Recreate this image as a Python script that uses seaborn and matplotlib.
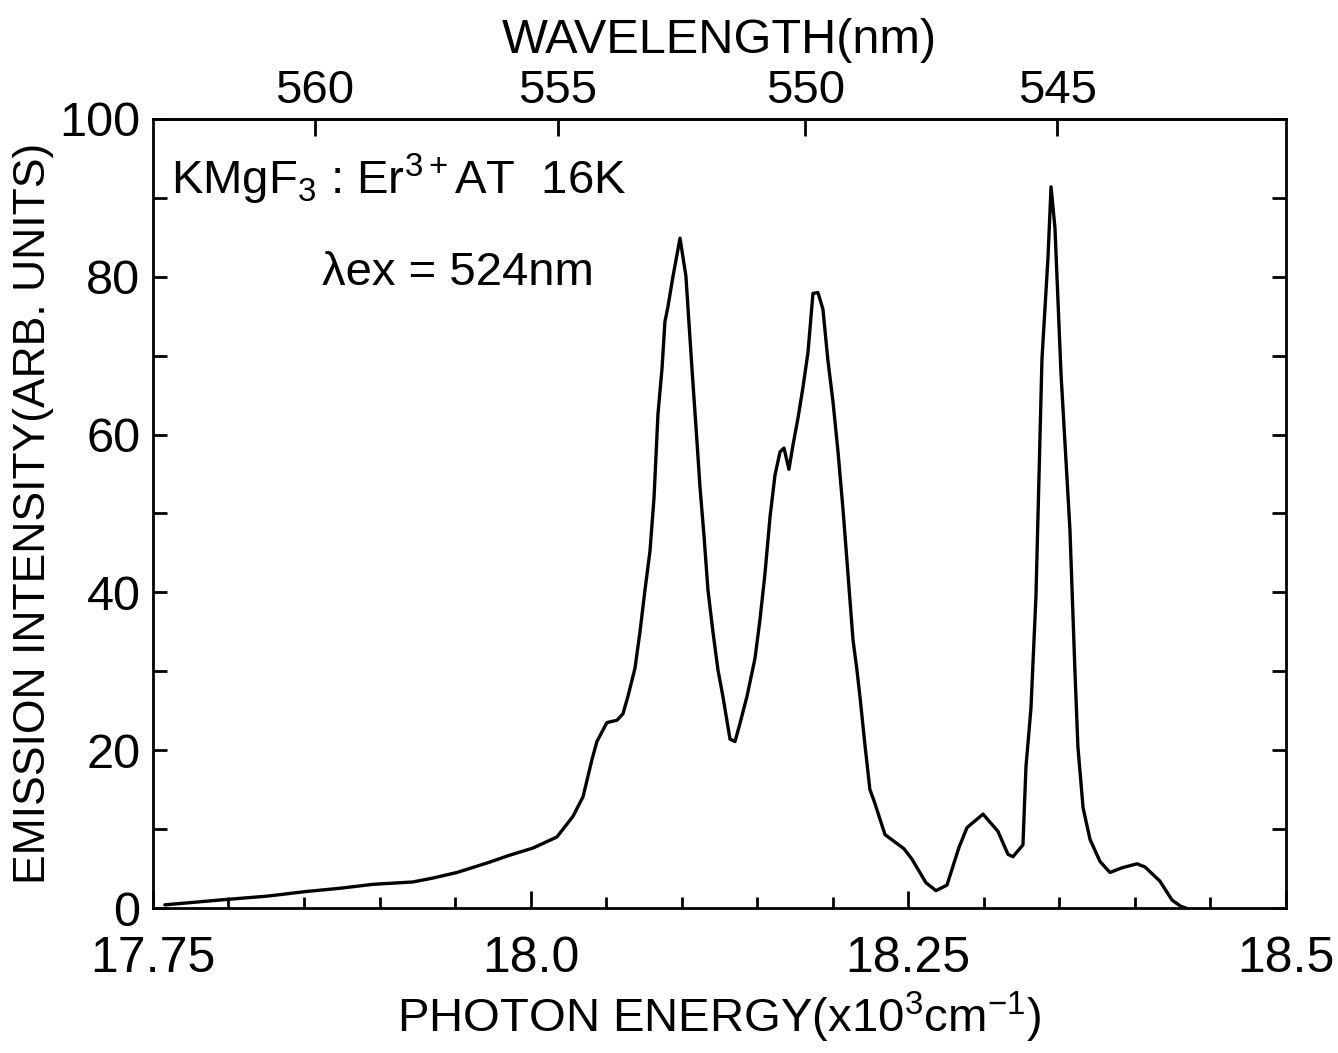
import numpy as np
import pandas as pd
import matplotlib
matplotlib.use("Agg")
import matplotlib.pyplot as plt
from matplotlib.ticker import MultipleLocator, FixedLocator, NullLocator
import seaborn as sns

# ---- data ----
energy = [17.7579, 17.7997, 17.8255, 17.8519, 17.8738, 17.8956, 17.9221, 17.9354,
          17.9512, 17.9711, 17.9863, 18.0016, 18.0174, 18.0280, 18.0347, 18.0406,
          18.0439, 18.0505, 18.0572, 18.0611, 18.0644, 18.0691, 18.0724, 18.0757,
          18.0790, 18.0817, 18.0843, 18.0870, 18.0889, 18.0909, 18.0942, 18.0989,
          18.1028, 18.1068, 18.1101, 18.1121, 18.1148, 18.1174, 18.1207, 18.1240,
          18.1273, 18.1320, 18.1353, 18.1386, 18.1432, 18.1485, 18.1518, 18.1551,
          18.1585, 18.1618, 18.1651, 18.1677, 18.1710, 18.1737, 18.1770, 18.1803,
          18.1836, 18.1869, 18.1902, 18.1935, 18.1968, 18.2002, 18.2035, 18.2068,
          18.2101, 18.2134, 18.2160, 18.2180, 18.2213, 18.2246, 18.2273, 18.2346,
          18.2472, 18.2524, 18.2617, 18.2683, 18.2756, 18.2836, 18.2889, 18.2995,
          18.3094, 18.3160, 18.3193, 18.3259, 18.3279, 18.3312, 18.3345, 18.3385,
          18.3425, 18.3445, 18.3471, 18.3511, 18.3570, 18.3604, 18.3623, 18.3657,
          18.3703, 18.3769, 18.3835, 18.3915, 18.4014, 18.4067, 18.4166, 18.4246,
          18.4305, 18.4338]
intensity = [0.4, 1.1, 1.5, 2.1, 2.5, 3.0, 3.3, 3.8,
             4.5, 5.7, 6.7, 7.6, 9.0, 11.6, 14.1, 18.8,
             21.1, 23.5, 23.8, 24.6, 26.8, 30.4, 35.0, 40.3,
             45.2, 52.0, 62.6, 68.4, 74.3, 76.2, 80.0, 84.9,
             80.1, 68.4, 59.2, 53.4, 47.1, 40.3, 35.0, 30.2,
             26.8, 21.4, 21.1, 23.4, 26.8, 31.6, 36.5, 42.3,
             49.6, 54.9, 57.8, 58.3, 55.6, 58.7, 62.1, 66.0,
             70.4, 77.9, 78.0, 75.9, 69.4, 64.1, 57.8, 50.5,
             42.3, 34.0, 30.2, 26.8, 20.7, 15.0, 13.6, 9.3,
             7.5, 6.2, 3.2, 2.2, 2.9, 7.7, 10.2, 11.9,
             9.7, 6.8, 6.5, 8.0, 17.9, 25.3, 39.4, 69.6,
             82.5, 91.4, 86.2, 67.7, 48.0, 29.6, 20.4, 12.7,
             8.7, 5.9, 4.5, 5.1, 5.6, 5.2, 3.4, 1.0,
             0.2, 0.0]

x_ticks = [17.75, 18.0, 18.25, 18.5]
x_ticklabels = ["17.75", "18.0", "18.25", "18.5"]
y_ticks = [0, 20, 40, 60, 80, 100]
wl_ticks = [560, 555, 550, 545]

df = pd.DataFrame({"energy": energy, "intensity": intensity})

# ---- style ----
sns.set_theme(style="ticks")
FONT = ["Liberation Sans", "DejaVu Sans"]
plt.rcParams["font.family"] = FONT
plt.rcParams["text.color"] = "black"
plt.rcParams["axes.labelcolor"] = "black"
plt.rcParams["xtick.color"] = "black"
plt.rcParams["ytick.color"] = "black"
plt.rcParams["mathtext.fontset"] = "custom"
plt.rcParams["mathtext.rm"] = "Liberation Sans"
plt.rcParams["mathtext.it"] = "Liberation Sans"
plt.rcParams["mathtext.bf"] = "Liberation Sans"
plt.rcParams["mathtext.sf"] = "Liberation Sans"

fig = plt.figure(figsize=(13.38, 10.53), dpi=100)
ax = fig.add_axes([0.1143, 0.1377, 0.9611 - 0.1143, 0.887 - 0.1377])

sns.lineplot(data=df, x="energy", y="intensity", sort=False, estimator=None,
             color="black", linewidth=2.4, ax=ax)

ax.set_xlim(17.75, 18.5)
ax.set_ylim(0, 100)

for s in ax.spines.values():
    s.set_linewidth(2.0)
    s.set_color("black")

ax.xaxis.set_major_locator(FixedLocator(x_ticks))
ax.set_xticklabels(x_ticklabels)
ax.xaxis.set_minor_locator(MultipleLocator(0.05))
ax.yaxis.set_major_locator(FixedLocator(y_ticks))
ax.yaxis.set_minor_locator(MultipleLocator(10))

ax.tick_params(axis="x", which="both", direction="in", top=False, bottom=True,
               labelsize=36, pad=20, colors="black")
ax.tick_params(axis="x", which="major", length=12, width=2)
ax.tick_params(axis="x", which="minor", length=8, width=2)
ax.tick_params(axis="y", which="both", direction="in", left=True, right=True,
               labelsize=35, pad=9, colors="black")
ax.tick_params(axis="y", which="major", length=10, width=2)
ax.tick_params(axis="y", which="minor", length=10, width=2)

ax.set_xlabel(r"PHOTON ENERGY(x10$^3$cm$^{-1}$)", fontsize=34, labelpad=6,
              color="black")
ax.set_ylabel("EMISSION INTENSITY(ARB. UNITS)", fontsize=32, labelpad=4,
              color="black")

# top wavelength axis
sec = ax.secondary_xaxis("top", functions=(lambda e: 1e4 / np.asarray(e, float),
                                           lambda w: 1e4 / np.asarray(w, float)))
sec.xaxis.set_major_locator(FixedLocator(wl_ticks))
sec.xaxis.set_minor_locator(NullLocator())
sec.tick_params(axis="x", direction="in", length=12, width=2, labelsize=34, pad=4,
                colors="black")
sec.spines["top"].set_linewidth(2.0)
sec.set_xlabel("WAVELENGTH(nm)", fontsize=35, labelpad=12, color="black")

# annotations
ax.text(0.016, 0.905, r"KMgF$_3$ : Er$^{3+}$AT  16K", transform=ax.transAxes,
        fontsize=34, ha="left", va="baseline", color="black")
ax.text(0.149, 0.79, "λex = 524nm", transform=ax.transAxes,
        fontsize=34, ha="left", va="baseline", color="black")

fig.savefig("out.png", dpi=100, facecolor="white")
